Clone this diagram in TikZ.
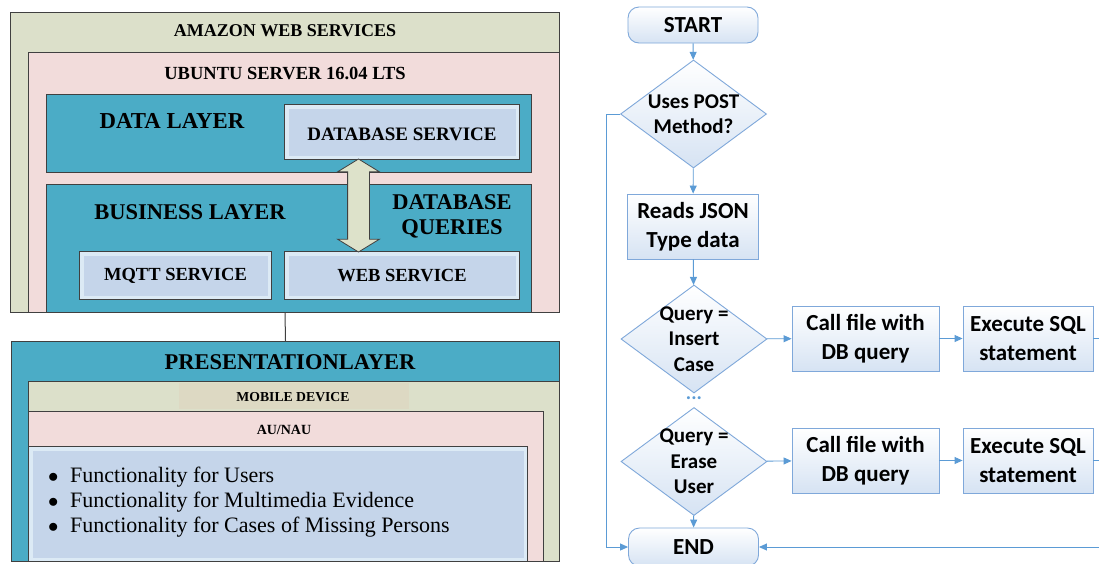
\documentclass[tikz,border=0pt]{standalone}
\usepackage{fontspec}
\setmainfont{Liberation Serif}
\newfontfamily\flowfont{Carlito}
\usetikzlibrary{arrows.meta}
\usetikzlibrary{shapes.geometric,shapes.arrows}
\definecolor{edgegray}{HTML}{404040}
\definecolor{awsgreen}{HTML}{DCE0CA}
\definecolor{srvpink}{HTML}{F2DCDB}
\definecolor{layerteal}{HTML}{4BACC6}
\definecolor{servfill}{HTML}{C5D5EA}
\definecolor{servband}{HTML}{DCEAF5}
\definecolor{mobhead}{HTML}{DDD9C3}
\definecolor{arrowfill}{HTML}{DDE2CA}
\definecolor{flowline}{HTML}{5B9BD5}
\definecolor{flowedge}{HTML}{7FA8DA}
\definecolor{flowfill}{HTML}{D6E3F3}
\newcommand*{\panel}[7][panel]{%
  \node [#1, fill=#7, minimum width=#5pt, minimum height=#6pt] (#2) at (#3,#4) {};
}

\begin{document}
\begin{tikzpicture}[x=1pt, y=-1pt]
		\tikzset{panel/.style={draw=edgegray, line width=1pt, inner sep=0pt, anchor=north west},
			service/.style={panel, path picture={\fill[servfill]
				([shift={(4pt,-4pt)}]path picture bounding box.north west) rectangle
				([shift={(-4pt,4pt)}]path picture bounding box.south east);}},
			ttl/.style={inner sep=0pt, font=\bfseries\fontsize{#1}{#1}\selectfont},
			ttl/.default=18,
			dbarrow/.style={double arrow, draw=edgegray, line width=0.8pt, fill=arrowfill,
				rotate=90, inner xsep=0pt, inner ysep=10.5pt, minimum height=93pt, minimum width=41pt,
				double arrow head extend=10pt, double arrow tip angle=117},
			flowbox/.style={draw=flowedge, line width=0.9pt, top color=white, bottom color=flowfill,
				inner sep=0pt, align=center, font=\flowfont\bfseries\fontsize{23}{29}\selectfont},
			term/.style={flowbox, rounded corners=11pt, minimum width=130pt, minimum height=36pt},
			decide/.style={diamond, draw=flowedge, line width=0.9pt, top color=white, bottom color=flowfill,
				inner sep=0pt, minimum width=146pt, minimum height=108pt},
			dtext/.style={inner sep=0pt, align=center, font=\flowfont\bfseries\fontsize{21}{25.5}\selectfont},
			flow/.style={draw=flowline, line width=0.9pt, -{Triangle[length=8pt,width=7pt]}},
			flowplain/.style={draw=flowline, line width=0.9pt}}
		\useasboundingbox (0,0) rectangle (1099,563);
		\fill[white] (0,0) rectangle (1099,563);
		% left: deployment layers
		\panel{aws}{10}{12}{549}{300}{awsgreen}
		\panel{ubuntu}{28}{52}{531}{260}{srvpink}
		\panel{datal}{46}{94}{485}{78}{layerteal}
		\panel{bizl}{46}{184}{485}{128}{layerteal}
		\panel[service]{dbs}{284}{104}{235}{55}{servband}
		\panel[service]{mqtt}{79}{251}{192}{48}{servband}
		\panel[service]{web}{284}{251}{235}{48}{servband}
		\node[ttl] (awst) at (285,31) {AMAZON WEB SERVICES};
		\node[ttl=18.5] (ubut) at (285,73) {UBUNTU SERVER 16.04 LTS};
		\node[ttl=22.8] (datat) at (172,121) {DATA LAYER};
		\node[ttl=22.5] (bizt) at (190,212) {BUSINESS LAYER};
		\node[ttl=19] (dbst) at ([yshift=-2pt]dbs) {DATABASE SERVICE};
		\node[ttl=18.5] (mqttt) at (mqtt) {MQTT SERVICE};
		\node[ttl=18.5] (webt) at (web) {WEB SERVICE};
		\node[inner sep=0pt, align=center, font=\bfseries\fontsize{22.5}{25}\selectfont] (dbq)
			at (452,216) {DATABASE\\QUERIES};
		\node[dbarrow] (dbarr) at (358.5,205.5) {};
		\panel{pres}{11}{341}{548}{220}{layerteal}
		\panel{mobile}{28}{381}{531}{180}{awsgreen}
		\node[fill=mobhead, inner sep=0pt, anchor=north west, minimum width=230pt, minimum height=26pt]
			(mobh) at (179,383) {};
		\panel{aunau}{28}{411}{515}{150}{srvpink}
		\panel[service]{feats}{28}{446}{499}{115}{servband}
		\node[ttl=22.5] (prest) at (290,362) {PRESENTATIONLAYER};
		\node[ttl=13.7] (mobt) at (293,397) {MOBILE DEVICE};
		\node[ttl=14] (aut) at (284,430) {AU/NAU};
		\foreach \y/\what in {482/Users, 507/Multimedia Evidence, 532/Cases of Missing Persons}
			\node[inner sep=0pt, anchor=base west, font=\fontsize{22}{25}\selectfont] (feat\y) at (47,\y)
				{\makebox[12pt]{$\bullet$}\hspace{11pt}Functionality for \what};
		\draw[edgegray, line width=1pt] (aws.south) -- (pres.north);
		% right: request handling flow
		\node[term] (start) at (693,25) {START};
		\node[decide] (post) at (693.5,114) {};
		\node[dtext] (postt) at (post) {Uses POST\\Method?};
		\node[flowbox, minimum width=131pt, minimum height=65pt] (json) at (693,226.5) {Reads JSON\\Type data};
		\node[decide] (qins) at (694,339) {};
		\node[dtext] (qinst) at (qins) {Query =\\Insert\\Case};
		\node[flowbox, minimum width=147pt, minimum height=65pt] (callins) at (865.5,338.5) {Call file with\\DB query};
		\node[flowbox, minimum width=130pt, minimum height=65pt] (sqlins) at (1028,338.5) {Execute SQL\\statement};
		\node[inner sep=0pt, text=flowline, font=\flowfont\bfseries\fontsize{20}{20}\selectfont] (dots) at (694,398) {...};
		\node[decide] (qera) at (694,461.5) {};
		\node[dtext] (qerat) at (qera) {Query =\\Erase\\User};
		\node[flowbox, minimum width=147pt, minimum height=65pt] (callera) at (865.5,460.5) {Call file with\\DB query};
		\node[flowbox, minimum width=130pt, minimum height=65pt] (sqlera) at (1028,460.5) {Execute SQL\\statement};
		\node[term, minimum height=38pt] (end) at (693.5,547) {END};
		\coordinate (outins) at (1099,338.5);
		\coordinate (outera) at (1099,460.5);
		\coordinate (back) at (1099,547);
		\draw[flow] (start) -- (post);
		\draw[flow] (post) -- (json);
		\draw[flow] (json) -- (qins);
		\draw[flow] (qins) -- (callins);
		\draw[flow] (callins) -- (sqlins);
		\draw[flowplain] (sqlins) -- (outins);
		\draw[flow] (qera) -- (callera);
		\draw[flow] (callera) -- (sqlera);
		\draw[flowplain] (sqlera) -- (outera);
		\draw[flow] (qera) -- (end);
		\draw[flow] (post.west) -- ++(-14,0) |- (end.west);
		\draw[flow] (back) -- (end.east);
\end{tikzpicture}
\end{document}
